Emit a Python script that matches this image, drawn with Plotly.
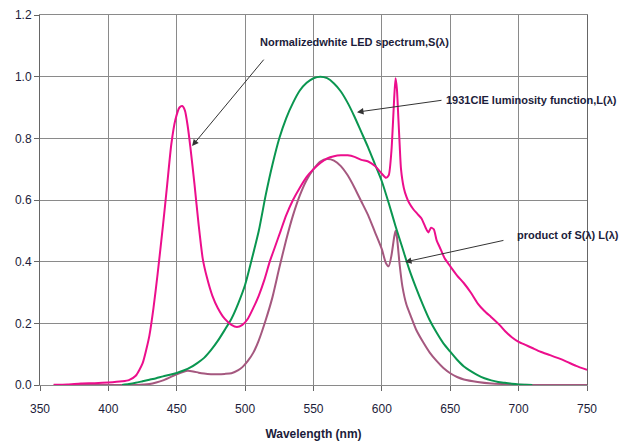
import plotly.graph_objects as go

# Normalized white LED spectrum S(lambda)
wl_led = [360, 370, 380, 390, 400, 410, 415, 420, 425, 428, 430, 433, 436, 440, 443, 446, 449, 452, 454, 456,
          458, 460, 463, 466, 469, 472, 476, 480, 485, 490, 494, 498, 502, 506, 510, 514, 518, 522, 526, 530,
          535, 540, 545, 550, 555, 560, 565, 570, 575, 580, 585, 590, 595, 600, 603, 605, 607, 608, 609, 610,
          611, 612, 613, 614, 616, 618, 620, 623, 626, 629, 632, 634, 636, 638, 640, 643, 646, 650, 655, 660,
          665, 670, 675, 680, 686, 690, 695, 700, 705, 710, 716, 723, 729, 735, 742, 750]
led_vals = [0.001, 0.002, 0.005, 0.006, 0.008, 0.012, 0.016, 0.03, 0.07, 0.12, 0.16, 0.25, 0.36, 0.52, 0.65, 0.78,
            0.86, 0.9, 0.905, 0.89, 0.84, 0.77, 0.65, 0.52, 0.41, 0.35, 0.29, 0.25, 0.215, 0.195, 0.188, 0.195,
            0.215, 0.25, 0.29, 0.34, 0.4, 0.45, 0.5, 0.55, 0.6, 0.64, 0.675, 0.7, 0.72, 0.735, 0.742, 0.745,
            0.745, 0.74, 0.73, 0.725, 0.71, 0.685, 0.672, 0.68, 0.76, 0.84, 0.93, 0.995, 0.96, 0.87, 0.78, 0.7,
            0.64, 0.61, 0.59, 0.57, 0.555, 0.54, 0.51, 0.495, 0.51, 0.505, 0.47, 0.44, 0.41, 0.385, 0.355, 0.33,
            0.3, 0.265, 0.24, 0.22, 0.195, 0.175, 0.155, 0.14, 0.13, 0.12, 0.108, 0.097, 0.087, 0.076, 0.062, 0.049]

# 1931 CIE luminosity function L(lambda)
wl_cie = [410, 415, 420, 425, 430, 435, 440, 445, 450, 455, 460, 465, 470, 475, 480, 485, 490, 495, 500, 505,
          510, 515, 520, 525, 530, 535, 540, 545, 550, 555, 560, 565, 570, 575, 580, 585, 590, 595, 600, 605,
          610, 615, 620, 625, 630, 635, 640, 645, 650, 655, 660, 665, 670, 675, 680, 685, 690, 695, 700, 705, 710]
cie_vals = [0.0, 0.003, 0.007, 0.012, 0.017, 0.022, 0.028, 0.033, 0.039, 0.047, 0.057, 0.071, 0.088, 0.113, 0.143,
            0.178, 0.215, 0.265, 0.325, 0.41, 0.5, 0.615, 0.715, 0.8, 0.865, 0.915, 0.955, 0.98, 0.995, 1.0,
            0.995, 0.978, 0.952, 0.915, 0.87, 0.82, 0.77, 0.715, 0.66, 0.59, 0.515, 0.445, 0.375, 0.315, 0.26,
            0.21, 0.17, 0.135, 0.108, 0.082, 0.06, 0.045, 0.032, 0.022, 0.015, 0.01, 0.007, 0.004, 0.002, 0.001, 0.0]

# Product S(lambda) L(lambda)
wl_prod = [360, 400, 420, 430, 435, 440, 445, 450, 455, 458, 462, 466, 470, 475, 480, 485, 490, 495, 498, 502,
           506, 510, 515, 520, 525, 530, 535, 540, 545, 550, 555, 560, 565, 570, 575, 580, 585, 590, 595, 600,
           603, 605, 607, 609, 610, 611, 613, 615, 618, 621, 625, 630, 635, 640, 645, 650, 655, 660, 670, 680,
           690, 700, 720, 750]
prod_vals = [0.0, 0.0, 0.0, 0.003, 0.008, 0.015, 0.025, 0.035, 0.043, 0.046, 0.044, 0.04, 0.037, 0.035, 0.035,
             0.036, 0.038, 0.048, 0.058, 0.078, 0.105, 0.145, 0.21, 0.285, 0.38, 0.47, 0.55, 0.615, 0.665, 0.7,
             0.725, 0.733, 0.728, 0.71, 0.68, 0.64, 0.595, 0.55, 0.495, 0.44, 0.395, 0.385, 0.42, 0.48, 0.5,
             0.48, 0.39, 0.32, 0.26, 0.225, 0.18, 0.14, 0.105, 0.078, 0.055, 0.038, 0.026, 0.018, 0.01, 0.005,
             0.003, 0.001, 0.0, 0.0]

x_ticks = [350, 400, 450, 500, 550, 600, 650, 700, 750]
y_ticks = [0.0, 0.2, 0.4, 0.6, 0.8, 1.0, 1.2]
y_tick_text = ["0.0", "0.2", "0.4", "0.6", "0.8", "1.0", "1.2"]

PINK = "#EC0E8C"
GREEN = "#0A9650"
MAUVE = "#A5587F"
TXT = "#1c1c3a"
GRID = "#8a8a8a"

fig = go.Figure()
fig.add_trace(go.Scatter(x=wl_prod, y=prod_vals, mode="lines",
                         line=dict(color=MAUVE, width=2, shape="spline", smoothing=0.6), showlegend=False))
fig.add_trace(go.Scatter(x=wl_cie, y=cie_vals, mode="lines",
                         line=dict(color=GREEN, width=2, shape="spline", smoothing=0.6), showlegend=False))
fig.add_trace(go.Scatter(x=wl_led, y=led_vals, mode="lines",
                         line=dict(color=PINK, width=2, shape="spline", smoothing=0.6), showlegend=False))

afont = dict(family="Liberation Sans, Arial, sans-serif", size=11, color=TXT)

# arrows (head at x,y; tail at ax,ay)
arrows = [
    (461.2, 0.775, 514.5, 1.06),
    (581.8, 0.885, 644.7, 0.924),
    (616.9, 0.399, 690.0, 0.470),
]
for (hx, hy, tx, ty) in arrows:
    fig.add_annotation(x=hx, y=hy, ax=tx, ay=ty, xref="x", yref="y", axref="x", ayref="y",
                       text="", showarrow=True, arrowhead=2, arrowsize=1.3, arrowwidth=1,
                       arrowcolor="#333333")

labels = [
    (510.5, 1.112, "<b>Normalizedwhite LED spectrum,S(λ)</b>"),
    (646.5, 0.9235, "<b>1931CIE luminosity function,L(λ)</b>"),
    (697.8, 0.4865, "<b>product of S(λ) L(λ)</b>"),
]
for (lx, ly, t) in labels:
    fig.add_annotation(x=lx, y=ly, xref="x", yref="y", text=t, showarrow=False,
                       xanchor="left", yanchor="middle", font=afont, borderpad=0)

fig.update_layout(
    width=632, height=443,
    margin=dict(l=40, r=45, t=15, b=58),
    paper_bgcolor="white", plot_bgcolor="white",
    font=dict(family="Liberation Sans, Arial, sans-serif", size=12, color=TXT),
)
fig.update_xaxes(range=[350, 750], tickvals=x_ticks, showgrid=True, gridcolor=GRID, gridwidth=1,
                 showline=True, linecolor=GRID, linewidth=1, mirror=True, automargin=False,
                 ticks="outside", ticklen=5, tickcolor="#666666", ticklabelstandoff=8,
                 zeroline=False,
                 title=dict(text="<b>Wavelength (nm)</b>", font=dict(size=12, color=TXT), standoff=14))
fig.update_yaxes(range=[0, 1.2], tickvals=y_ticks, ticktext=y_tick_text, showgrid=True, gridcolor=GRID,
                 gridwidth=1, showline=True, linecolor="#666666", linewidth=1, mirror=True, automargin=False,
                 ticks="outside", ticklen=5, tickcolor="#666666", zeroline=False)

fig.write_html("out.html", config={"displayModeBar": False},
               post_script="document.body.style.margin='0';document.body.style.padding='0';")
